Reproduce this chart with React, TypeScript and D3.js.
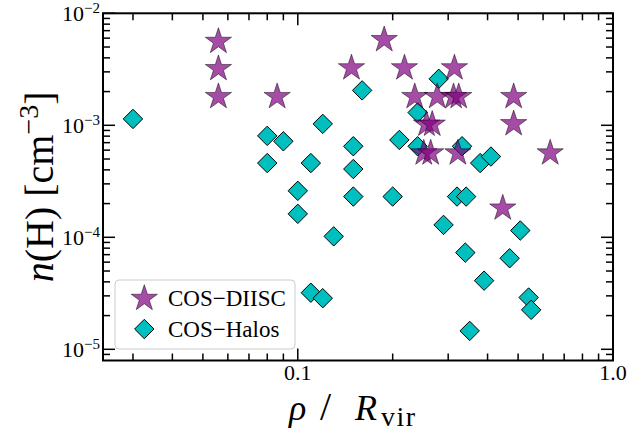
import React from 'react';
import * as d3 from 'd3';

// ---- data (rho / R_vir, n(H) in cm^-3) ----
const diiscRho = [0.056, 0.056, 0.056, 0.086, 0.188, 0.148, 0.218, 0.314, 0.235, 0.277, 0.312, 0.324, 0.484, 0.484, 0.256, 0.267, 0.251, 0.264, 0.322, 0.632, 0.447];
const diiscNH = [5.6e-3, 3.2e-3, 1.8e-3, 1.8e-3, 5.8e-3, 3.25e-3, 3.25e-3, 3.25e-3, 1.8e-3, 1.8e-3, 1.8e-3, 1.8e-3, 1.8e-3, 1.03e-3, 1.02e-3, 1.02e-3, 5.65e-4, 5.65e-4, 5.65e-4, 5.65e-4, 1.82e-4];

const halosRho = [0.030, 0.080, 0.090, 0.080, 0.110, 0.100, 0.100, 0.120, 0.160, 0.280, 0.240, 0.150, 0.150, 0.150, 0.210, 0.200, 0.240, 0.332, 0.379, 0.410, 0.320, 0.342, 0.130, 0.290, 0.508, 0.340, 0.470, 0.390, 0.540, 0.550, 0.351, 0.110, 0.120];
const halosNH = [1.14e-3, 8.05e-4, 7.2e-4, 4.6e-4, 4.6e-4, 2.6e-4, 1.62e-4, 1.03e-3, 2.05e-3, 2.6e-3, 1.30e-3, 6.5e-4, 4.07e-4, 2.31e-4, 7.4e-4, 2.31e-4, 6.5e-4, 6.5e-4, 4.6e-4, 5.26e-4, 2.31e-4, 2.31e-4, 1.02e-4, 1.29e-4, 1.15e-4, 7.3e-5, 6.5e-5, 4.1e-5, 2.9e-5, 2.25e-5, 1.46e-5, 3.2e-5, 2.86e-5];

const seriesNames = ['COS\u2212DIISC', 'COS\u2212Halos'];
const xMajorTicks = [0.1, 1.0];
const xTickLabels = ['0.1', '1.0'];
const yMajorTicks = [1e-5, 1e-4, 1e-3, 1e-2];
const yTickExponents = ['\u22125', '\u22124', '\u22123', '\u22122'];

const W = 629;
const H = 439;
const L = 103;
const R = 613;
const T = 13.3;
const B = 360.5;
const FONT = "'Liberation Serif', 'DejaVu Serif', serif";

function starPath(cx: number, cy: number, ro: number): string {
  const ri = ro * 0.381966;
  const pts: string[] = [];
  for (let i = 0; i < 10; i++) {
    const r = i % 2 === 0 ? ro : ri;
    const a = -Math.PI / 2 + (i * Math.PI) / 5;
    pts.push(`${(cx + r * Math.cos(a)).toFixed(2)},${(cy + r * Math.sin(a)).toFixed(2)}`);
  }
  return 'M' + pts.join('L') + 'Z';
}

function diamondPath(cx: number, cy: number, h: number): string {
  return `M${cx},${cy - h}L${cx + h},${cy}L${cx},${cy + h}L${cx - h},${cy}Z`;
}

const STAR_R = 13.8;
const DIAM_H = 9.7;

export default function App() {
  const x = d3.scaleLog().domain([0.0241, 1.0]).range([L, R]);
  const y = d3.scaleLog().domain([Math.pow(10, -2 - (B - T) / 112), 1e-2]).range([B, T]);

  const [xmin, xmax] = x.domain();
  const [ymin, ymax] = y.domain();
  const xMinor: number[] = [];
  for (let e = -2; e <= 0; e++) {
    for (let k = 2; k <= 9; k++) {
      const v = k * Math.pow(10, e);
      if (v > xmin * 1.01 && v < xmax * 0.99) xMinor.push(v);
    }
  }
  const yMinor: number[] = [];
  for (let e = -6; e <= -2; e++) {
    for (let k = 2; k <= 9; k++) {
      const v = k * Math.pow(10, e);
      if (v > ymin * 1.03 && v < ymax * 0.99) yMinor.push(v);
    }
  }

  const tickStyle = { stroke: '#000', strokeWidth: 1.5 };
  const MAJ = 12;
  const MIN = 7;

  return (
    <svg width={W} height={H} style={{ position: 'absolute', left: 0, top: 0, background: '#fff' }} fontFamily={FONT}>
      <rect x={0} y={0} width={W} height={H} fill="#fff" />

      {/* ticks */}
      {xMajorTicks.map((v, i) => (
        <g key={'xM' + i}>
          <line x1={x(v)} x2={x(v)} y1={B} y2={B - MAJ} {...tickStyle} />
          <line x1={x(v)} x2={x(v)} y1={T} y2={T + MAJ} {...tickStyle} />
        </g>
      ))}
      {xMinor.map((v, i) => (
        <g key={'xm' + i}>
          <line x1={x(v)} x2={x(v)} y1={B} y2={B - MIN} {...tickStyle} />
          <line x1={x(v)} x2={x(v)} y1={T} y2={T + MIN} {...tickStyle} />
        </g>
      ))}
      {yMajorTicks.map((v, i) => (
        <g key={'yM' + i}>
          <line x1={L} x2={L + MAJ} y1={y(v)} y2={y(v)} {...tickStyle} />
          <line x1={R} x2={R - MAJ} y1={y(v)} y2={y(v)} {...tickStyle} />
        </g>
      ))}
      {yMinor.map((v, i) => (
        <g key={'ym' + i}>
          <line x1={L} x2={L + MIN} y1={y(v)} y2={y(v)} {...tickStyle} />
          <line x1={R} x2={R - MIN} y1={y(v)} y2={y(v)} {...tickStyle} />
        </g>
      ))}

      {/* tick labels */}
      {xMajorTicks.map((v, i) => (
        <text key={'xl' + i} x={x(v)} y={380} textAnchor="middle" fontSize={22} fill="#000" fontFamily={FONT}>
          {xTickLabels[i]}
        </text>
      ))}
      {yMajorTicks.map((v, i) => (
        <text key={'yl' + i} x={100} y={y(v) + 7.5} textAnchor="end" fontSize={22} fill="#000" fontFamily={FONT}>
          <tspan>10</tspan>
          <tspan dy={-7.5} fontSize={15}>{yTickExponents[i]}</tspan>
        </text>
      ))}

      {/* data: Halos diamonds */}
      {halosRho.map((v, i) => (
        <path key={'h' + i} d={diamondPath(x(v), y(halosNH[i]), DIAM_H)} fill="#00BFBF" stroke="#000" strokeWidth={1} />
      ))}
      {/* data: DIISC stars */}
      {diiscRho.map((v, i) => (
        <path key={'d' + i} d={starPath(x(v), y(diiscNH[i]), STAR_R)} fill="#800080" fillOpacity={0.7} stroke="#000" strokeOpacity={0.6} strokeWidth={0.8} />
      ))}

      {/* frame */}
      <rect x={L} y={T} width={R - L} height={B - T} fill="none" stroke="#000" strokeWidth={2} />

      {/* legend */}
      <rect x={115} y={280} width={180} height={69} rx={4} fill="#fff" fillOpacity={0.8} stroke="#cccccc" strokeWidth={1} />
      <path d={starPath(144.3, 298.5, STAR_R)} fill="#800080" fillOpacity={0.7} stroke="#000" strokeOpacity={0.6} strokeWidth={0.8} />
      <path d={diamondPath(144.3, 329, DIAM_H)} fill="#00BFBF" stroke="#000" strokeWidth={1} />
      <text x={168} y={305.5} fontSize={23} fill="#000" fontFamily={FONT}>{seriesNames[0]}</text>
      <text x={168} y={337} fontSize={23} fill="#000" fontFamily={FONT}>{seriesNames[1]}</text>

      {/* axis labels */}
      <text y={420} fontSize={36} fill="#000" fontFamily={FONT}>
        <tspan x={289} fontStyle="italic">{'\u03C1'}</tspan>
        <tspan x={320} fontSize={40}>/</tspan>
        <tspan x={355} fontStyle="italic">R</tspan>
        <tspan x={381} dy={6} fontSize={28} letterSpacing={1.5}>vir</tspan>
      </text>
      <text transform={`translate(53, ${(T + B) / 2}) rotate(-90)`} textAnchor="middle" fontSize={40} fill="#000" fontFamily={FONT} style={{ whiteSpace: 'pre' }}>
        <tspan fontStyle="italic">n</tspan>
        <tspan>{'(H) [cm'}</tspan>
        <tspan dy={-15} fontSize={28}>{'\u22123'}</tspan>
        <tspan dy={15}>]</tspan>
      </text>
    </svg>
  );
}
